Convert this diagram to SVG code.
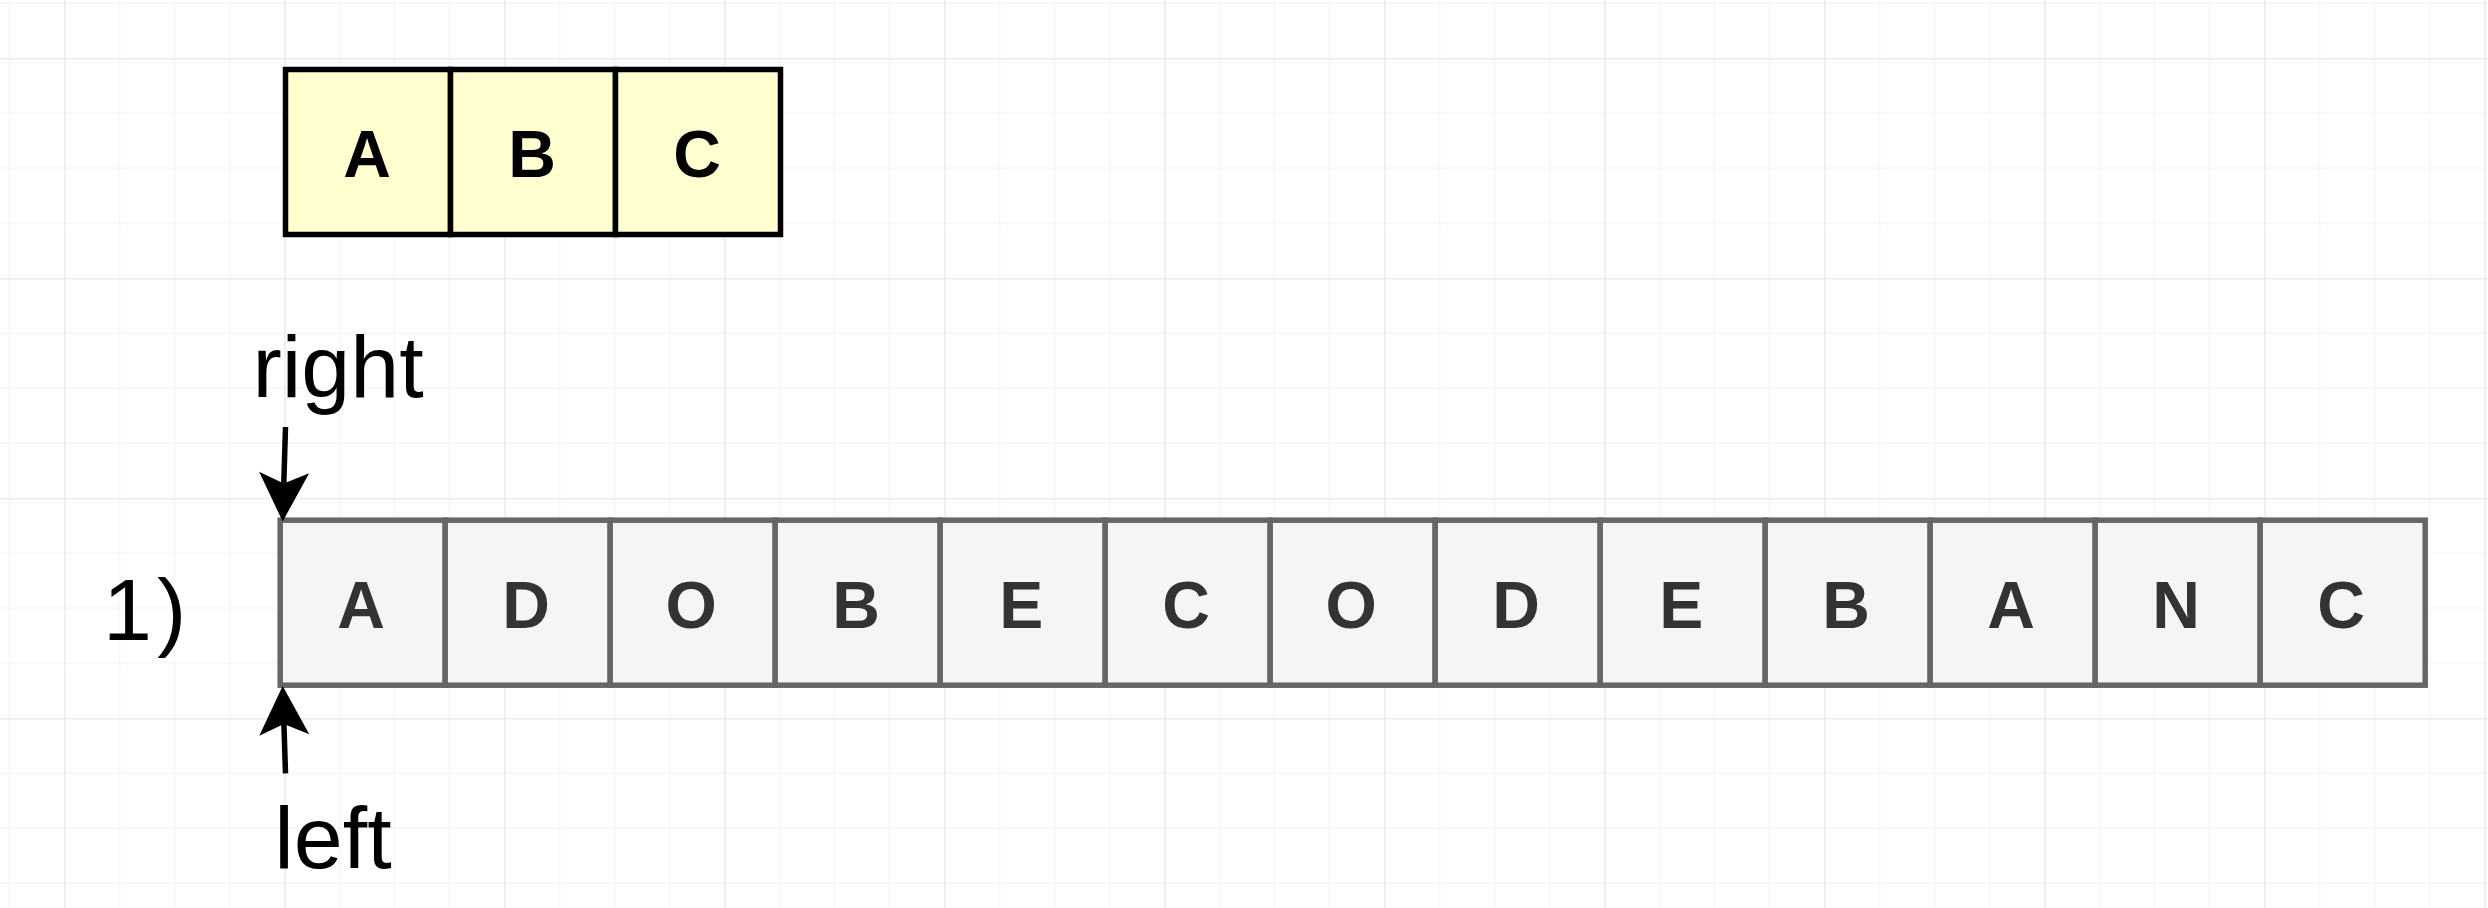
<svg xmlns="http://www.w3.org/2000/svg" width="2488" height="908" viewBox="0 0 2488 908">
  <style>
    .cell-y { fill: #ffffd0; stroke: #000000; stroke-width: 5.5; }
    .cell-g { fill: #f5f5f5; stroke: #666666; stroke-width: 5.5; }
    .t-y { font-family: "Liberation Sans", Arial, Helvetica, sans-serif; font-size: 66px; font-weight: bold; fill: #000000; text-anchor: middle; }
    .t-g { font-family: "Liberation Sans", Arial, Helvetica, sans-serif; font-size: 66px; font-weight: bold; fill: #333333; text-anchor: middle; }
    .lbl { font-family: "Liberation Sans", Arial, Helvetica, sans-serif; font-size: 88px; fill: #000000; }
    .conn { fill: none; stroke: #000000; stroke-width: 5.5; marker-end: url(#arrow); }
  </style>
  <defs>
    <pattern id="grid" patternUnits="userSpaceOnUse" x="64.5" y="58.3" width="220" height="220">
      <path d="M55 0V220M110 0V220M165 0V220M0 55H220M0 110H220M0 165H220" stroke="#f1f1f1" stroke-width="1" fill="none"/>
      <path d="M0.5 0V220M0 0.5H220" stroke="#e0e0e0" stroke-width="1" fill="none"/>
    </pattern>
    <marker id="arrow" markerUnits="userSpaceOnUse" viewBox="-52 -28 56 56" refX="-38" refY="0" markerWidth="56" markerHeight="56" orient="auto">
      <path d="M0 0L-49 -25L-38 0L-49 25Z" fill="#000000"/>
    </marker>
  </defs>
  <rect x="0" y="0" width="2488" height="908" fill="#ffffff"/>
  <rect x="0" y="0" width="2488" height="908" fill="url(#grid)"/>

  <g id="pattern-ABC">
    <g id="p0"><rect class="cell-y" x="285.5" y="69.5" width="165" height="165"/><text class="t-y" x="367" y="176.5">A</text></g>
    <g id="p1"><rect class="cell-y" x="450.5" y="69.5" width="165" height="165"/><text class="t-y" x="532" y="176.5">B</text></g>
    <g id="p2"><rect class="cell-y" x="615.5" y="69.5" width="165" height="165"/><text class="t-y" x="697" y="176.5">C</text></g>
  </g>

  <g id="string">
    <g id="s0"><rect class="cell-g" x="280.2" y="520.2" width="165" height="165"/><text class="t-g" x="361.2" y="627.5">A</text></g>
    <g id="s1"><rect class="cell-g" x="445.2" y="520.2" width="165" height="165"/><text class="t-g" x="526.2" y="627.5">D</text></g>
    <g id="s2"><rect class="cell-g" x="610.2" y="520.2" width="165" height="165"/><text class="t-g" x="691.2" y="627.5">O</text></g>
    <g id="s3"><rect class="cell-g" x="775.2" y="520.2" width="165" height="165"/><text class="t-g" x="856.2" y="627.5">B</text></g>
    <g id="s4"><rect class="cell-g" x="940.2" y="520.2" width="165" height="165"/><text class="t-g" x="1021.2" y="627.5">E</text></g>
    <g id="s5"><rect class="cell-g" x="1105.2" y="520.2" width="165" height="165"/><text class="t-g" x="1186.2" y="627.5">C</text></g>
    <g id="s6"><rect class="cell-g" x="1270.2" y="520.2" width="165" height="165"/><text class="t-g" x="1351.2" y="627.5">O</text></g>
    <g id="s7"><rect class="cell-g" x="1435.2" y="520.2" width="165" height="165"/><text class="t-g" x="1516.2" y="627.5">D</text></g>
    <g id="s8"><rect class="cell-g" x="1600.2" y="520.2" width="165" height="165"/><text class="t-g" x="1681.2" y="627.5">E</text></g>
    <g id="s9"><rect class="cell-g" x="1765.2" y="520.2" width="165" height="165"/><text class="t-g" x="1846.2" y="627.5">B</text></g>
    <g id="s10"><rect class="cell-g" x="1930.2" y="520.2" width="165" height="165"/><text class="t-g" x="2011.2" y="627.5">A</text></g>
    <g id="s11"><rect class="cell-g" x="2095.2" y="520.2" width="165" height="165"/><text class="t-g" x="2176.2" y="627.5">N</text></g>
    <g id="s12"><rect class="cell-g" x="2260.2" y="520.2" width="165" height="165"/><text class="t-g" x="2341.2" y="627.5">C</text></g>
  </g>

  <g id="label-step"><text class="lbl" x="103" y="640">1<tspan dx="5">)</tspan></text></g>
  <g id="label-right"><text class="lbl" x="252.5" y="397">right</text></g>
  <g id="label-left"><text class="lbl" x="274.2" y="868">left</text></g>

  <g id="connectors">
    <path class="conn" d="M285.5 427L283.8 483.5"/>
    <path class="conn" d="M285.5 773.3L283.9 724"/>
  </g>
</svg>
